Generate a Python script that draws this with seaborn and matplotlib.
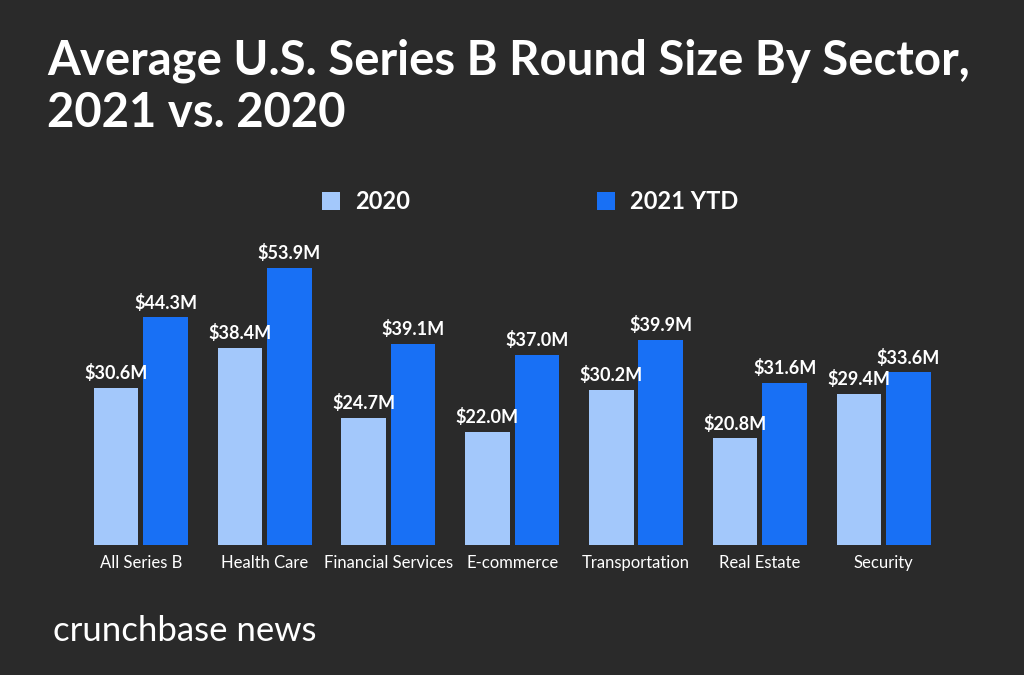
import matplotlib
matplotlib.use("Agg")
import matplotlib.pyplot as plt
import seaborn as sns
import pandas as pd

categories = ["All Series B", "Health Care", "Financial Services", "E-commerce",
              "Transportation", "Real Estate", "Security"]
values_2020 = [30.6, 38.4, 24.7, 22.0, 30.2, 20.8, 29.4]
values_2021 = [44.3, 53.9, 39.1, 37.0, 39.9, 31.6, 33.6]
series_names = ["2020", "2021 YTD"]

BG = "#2a2a2a"
C_LIGHT = "#a3c8fb"
C_DARK = "#1870f5"

df = pd.DataFrame({
    "sector": categories * 2,
    "series": [series_names[0]] * len(categories) + [series_names[1]] * len(categories),
    "value": values_2020 + values_2021,
})

sns.set_theme(style="dark")
plt.rcParams["font.family"] = ["Lato", "DejaVu Sans"]

fig = plt.figure(figsize=(10.24, 6.75), dpi=100, facecolor=BG)
ax = fig.add_axes([0.077, 0.1926, 0.8464, 0.4569])
ax.set_facecolor(BG)

sns.barplot(data=df, x="sector", y="value", hue="series", order=categories,
            hue_order=series_names, palette=[C_LIGHT, C_DARK], width=0.8, gap=0.1,
            saturation=1, ax=ax, legend=True, linewidth=0, edgecolor="none")

for cont in ax.containers:
    ax.bar_label(cont, labels=[f"${v:.1f}M" for v in cont.datavalues], padding=4,
                 color="white", fontsize=13, fontweight="bold")

ax.set_ylim(0, 60)
ax.set_xlim(-0.5, len(categories) - 0.5)
ax.set_yticks([])
ax.set_xlabel("")
ax.set_ylabel("")
ax.tick_params(axis="x", colors="white", labelsize=12, length=0, pad=7.5)
for s in ax.spines.values():
    s.set_visible(False)
ax.grid(False)

handles, labels = ax.get_legend_handles_labels()
leg = ax.legend(handles, labels, loc="lower left", bbox_to_anchor=(0.27, 1.045),
                ncol=2, frameon=False, fontsize=17, handlelength=0.75, handleheight=0.75,
                handletextpad=0.65, columnspacing=7.9, borderaxespad=0)
for t in leg.get_texts():
    t.set_color("white")
    t.set_fontweight("bold")

fig.text(0.046, 0.943, "Average U.S. Series B Round Size By Sector,\n2021 vs. 2020",
         color="white", fontsize=34, fontweight="bold", va="top", ha="left",
         linespacing=1.22)
fig.text(0.052, 0.05, "crunchbase news", color="white", fontsize=25,
         va="baseline", ha="left")

fig.savefig("out.png", dpi=100, facecolor=BG)
